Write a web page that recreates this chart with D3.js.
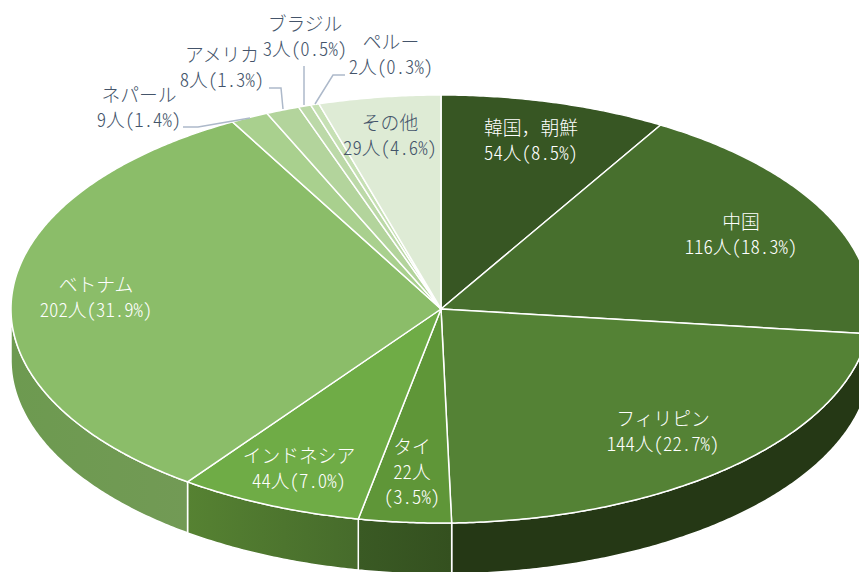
<!DOCTYPE html>
<html>
<head>
<meta charset="utf-8">
<script src="https://cdn.jsdelivr.net/npm/d3@7"></script>
<style>
html, body { margin: 0; padding: 0; background: #fff; overflow: hidden; }
text { font-family: "Noto Sans CJK JP", sans-serif; font-weight: 300; font-size: 18.8px; }
.num { font-feature-settings: "hwid"; }
</style>
</head>
<body>
<svg width="859" height="572"></svg>
<script>
// データ
var countries = ["韓国，朝鮮", "中国", "フィリピン", "タイ", "インドネシア", "ベトナム", "ネパール", "アメリカ", "ブラジル", "ペルー", "その他"];
var people = [54, 116, 144, 22, 44, 202, 9, 8, 3, 2, 29];
var shares = ["8.5", "18.3", "22.7", "3.5", "7.0", "31.9", "1.4", "1.3", "0.5", "0.3", "4.6"];

var topColors = ["#375623", "#476f2d", "#548235", "#5f9638", "#6fac46", "#8bbd69", "#a9d08e", "#b3d49c", "#bcd9a8", "#c6e0b4", "#deebd5"];
var sideFrom = ["#375623", "#476f2d", "#253815", "#3a5a24", "#568232", "#6d9a50", "#6d9a50", "#6d9a50", "#6d9a50", "#6d9a50", "#6d9a50"];
var sideTo = ["#375623", "#2d4a1a", "#253815", "#34501f", "#466b2b", "#729a55", "#729a55", "#729a55", "#729a55", "#729a55", "#729a55"];

// ラベルの位置
var labelX = [531, 741, 663, 412, 299, 96, 139, 222, 305, 391, 390];
var labelY = [128, 222, 419, 447, 456, 285, 95, 55, 24, 42, 123];

var svg = d3.select("svg");

var cx = 441, cy = 309, rx = 430, ry = 214, depth = 51;

var pie = d3.pie().sort(null);
var slices = pie(people);

// 角度を楕円上の点にする
function px(a) { return cx + rx * Math.sin(a); }
function py(a) { return cy - ry * Math.cos(a); }

function arcPoints(a0, a1) {
    var n = Math.max(2, Math.ceil((a1 - a0) * 120));
    return d3.range(n + 1).map(function (i) {
        var a = a0 + (a1 - a0) * i / n;
        return [px(a), py(a)];
    });
}

var line = d3.line();

var defs = svg.append("defs");

// 手前の側面
var walls = slices.map(function (d, i) {
    var a0 = Math.max(d.startAngle, Math.PI / 2), a1 = Math.min(d.endAngle, Math.PI * 1.5);
    return { i: i, a0: a0, a1: a1 };
}).filter(function (w) { return w.a1 > w.a0; });

walls.forEach(function (w) {
    var g = defs.append("linearGradient")
        .attr("id", "wall" + w.i)
        .attr("gradientUnits", "userSpaceOnUse")
        .attr("x1", px(w.a1)).attr("x2", px(w.a0))
        .attr("y1", 0).attr("y2", 0);
    g.append("stop").attr("offset", 0).attr("stop-color", sideFrom[w.i]);
    g.append("stop").attr("offset", 1).attr("stop-color", sideTo[w.i]);
});

svg.append("g").selectAll("path")
    .data(walls)
    .enter().append("path")
    .attr("d", function (w) {
        var t = arcPoints(w.a0, w.a1);
        var b = t.map(function (p) { return [p[0], p[1] + depth]; }).reverse();
        return line(t.concat(b)) + "Z";
    })
    .attr("fill", function (w) { return "url(#wall" + w.i + ")"; })
    .attr("stroke", "#fff")
    .attr("stroke-width", 1.5);

// 上面
svg.append("g").selectAll("path")
    .data(slices)
    .enter().append("path")
    .attr("d", function (d) {
        return line([[cx, cy]].concat(arcPoints(d.startAngle, d.endAngle))) + "Z";
    })
    .attr("fill", function (d, i) { return topColors[i]; })
    .attr("stroke", "#fff")
    .attr("stroke-width", 1.5);

// 引き出し線
var leaders = [
    [[183, 127], [198, 127], [250, 118]],
    [[269, 88], [281, 88], [283, 109]],
    [[304, 66], [304, 105]],
    [[345, 75], [333, 75], [315, 104]]
];
svg.append("g").selectAll("path")
    .data(leaders)
    .enter().append("path")
    .attr("d", line)
    .attr("fill", "none")
    .attr("stroke", "#adb9ca")
    .attr("stroke-width", 1.5);

// ラベル
var labels = svg.append("g").selectAll("text")
    .data(countries)
    .enter().append("text")
    .attr("text-anchor", "middle")
    .attr("fill", function (d, i) { return i >= 6 ? "#44546a" : "#fff"; });

labels.each(function (d, i) {
    var t = d3.select(this);
    var x = labelX[i], y = labelY[i];
    t.append("tspan").attr("x", x).attr("y", y + 7).text(d);
    if (d === "タイ") {
        t.append("tspan").attr("class", "num").attr("x", x).attr("y", y + 32).text(people[i] + "人");
        t.append("tspan").attr("class", "num").attr("x", x).attr("y", y + 57).text("(" + shares[i] + "%)");
    } else {
        t.append("tspan").attr("class", "num").attr("x", x).attr("y", y + 32).text(people[i] + "人(" + shares[i] + "%)");
    }
});
</script>
</body>
</html>
